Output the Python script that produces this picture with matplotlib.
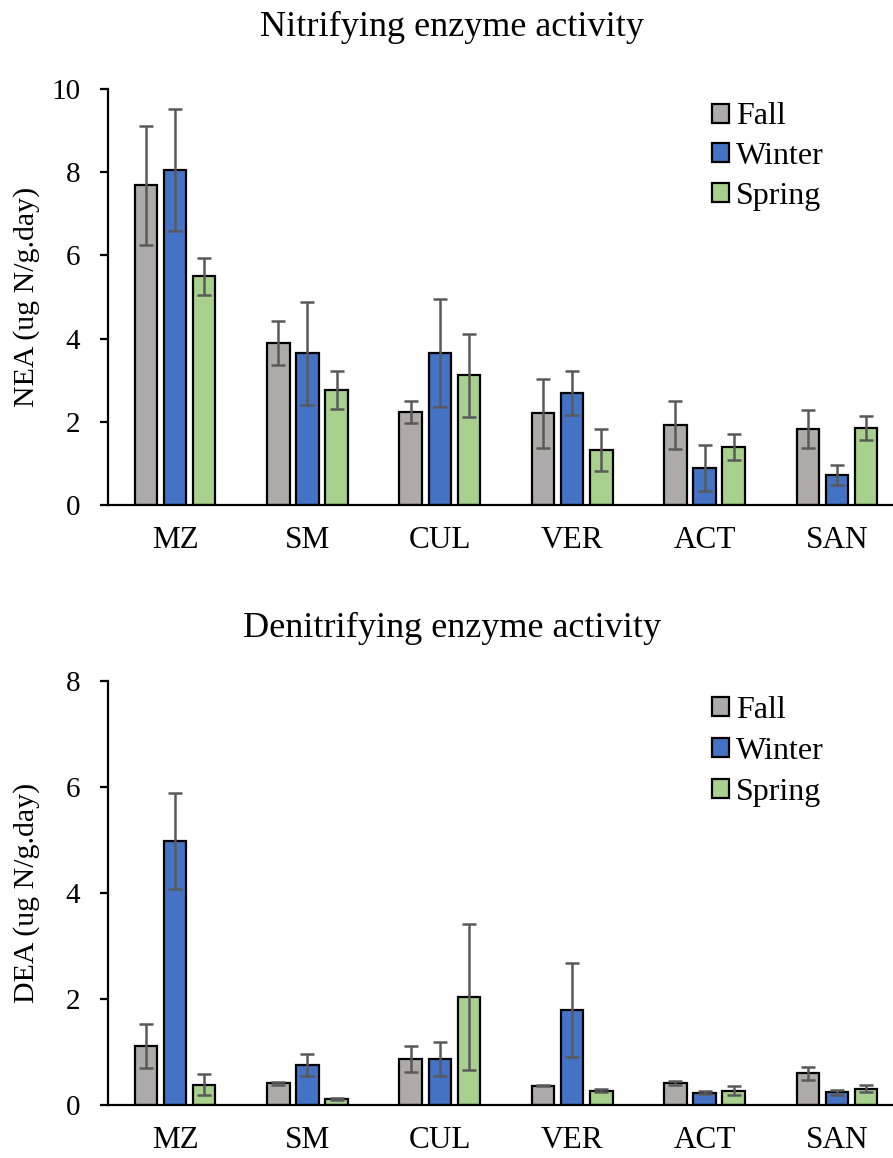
import matplotlib
matplotlib.use("Agg")
import matplotlib.pyplot as plt
import numpy as np

plt.rcParams['font.family'] = ['Liberation Serif', 'DejaVu Serif']

sites = ['MZ', 'SM', 'CUL', 'VER', 'ACT', 'SAN']
seasons = ['Fall', 'Winter', 'Spring']
colors = ['#AEAAAA', '#4472C4', '#A9D18E']

# nitrifying enzyme activity (mean, error)
nea_fall = [7.69, 3.89, 2.24, 2.20, 1.92, 1.83]
nea_winter = [8.05, 3.65, 3.65, 2.69, 0.88, 0.72]
nea_spring = [5.50, 2.76, 3.12, 1.32, 1.39, 1.85]
nea_fall_err = [1.43, 0.53, 0.27, 0.83, 0.58, 0.46]
nea_winter_err = [1.47, 1.24, 1.30, 0.52, 0.55, 0.24]
nea_spring_err = [0.44, 0.46, 1.00, 0.50, 0.32, 0.29]

# denitrifying enzyme activity (mean, error)
dea_fall = [1.11, 0.41, 0.87, 0.36, 0.41, 0.60]
dea_winter = [4.98, 0.75, 0.87, 1.79, 0.23, 0.24]
dea_spring = [0.38, 0.11, 2.04, 0.27, 0.27, 0.31]
dea_fall_err = [0.42, 0.03, 0.24, 0.01, 0.04, 0.12]
dea_winter_err = [0.91, 0.21, 0.32, 0.89, 0.03, 0.05]
dea_spring_err = [0.20, 0.02, 1.38, 0.03, 0.09, 0.06]


def draw(ax, means, errs, ymax, ylabel, leg_y, leg_gap):
    x = np.arange(len(sites))
    for i, (m, e) in enumerate(zip(means, errs)):
        ax.bar(x + (i - 1) * 0.22, m, 0.17, color=colors[i], edgecolor='black',
               linewidth=1.6, label=seasons[i], zorder=2)
        ax.errorbar(x + (i - 1) * 0.22, m, yerr=e, fmt='none', ecolor='#595959',
                    elinewidth=1.8, capsize=5, capthick=1.8, zorder=3)
    ax.set_xlim(-0.506, 5.423)
    ax.set_ylim(0, ymax)
    ax.set_yticks(np.arange(0, ymax + 1, 2))
    ax.set_xticks(x)
    ax.set_xticklabels(sites)
    ax.tick_params(axis='x', length=0, pad=15, labelsize=22.5)
    ax.tick_params(axis='y', length=6, width=1.6, pad=14, labelsize=21)
    for s in ['top', 'right']:
        ax.spines[s].set_visible(False)
    for s in ['left', 'bottom']:
        ax.spines[s].set_linewidth(1.6)
    ax.set_ylabel(ylabel, fontsize=21.5)
    ax.yaxis.set_label_coords(-0.087, 0.5)
    leg = ax.legend(loc='upper left', bbox_to_anchor=(0.769, leg_y), frameon=False,
                    fontsize=23, handlelength=0.55, handleheight=0.55,
                    handletextpad=0.2, labelspacing=leg_gap,
                    borderpad=0, borderaxespad=0)
    for h in leg.legend_handles:
        h.set_linewidth(1.6)


fig = plt.figure(figsize=(8.93, 11.58), dpi=100)
ax1 = fig.add_axes([0.121, 0.564, 0.879, 0.359])
ax2 = fig.add_axes([0.121, 0.0458, 0.879, 0.366])

draw(ax1, [nea_fall, nea_winter, nea_spring],
     [nea_fall_err, nea_winter_err, nea_spring_err], 10, 'NEA (ug N/g.day)',
     0.968, 0.33)
draw(ax2, [dea_fall, dea_winter, dea_spring],
     [dea_fall_err, dea_winter_err, dea_spring_err], 8, 'DEA (ug N/g.day)',
     0.966, 0.38)

fig.text(0.506, 0.976, 'Nitrifying enzyme activity', ha='center', va='center', fontsize=26)
fig.text(0.506, 0.457, 'Denitrifying enzyme activity', ha='center', va='center', fontsize=26)

fig.savefig('out.png', dpi=100)
